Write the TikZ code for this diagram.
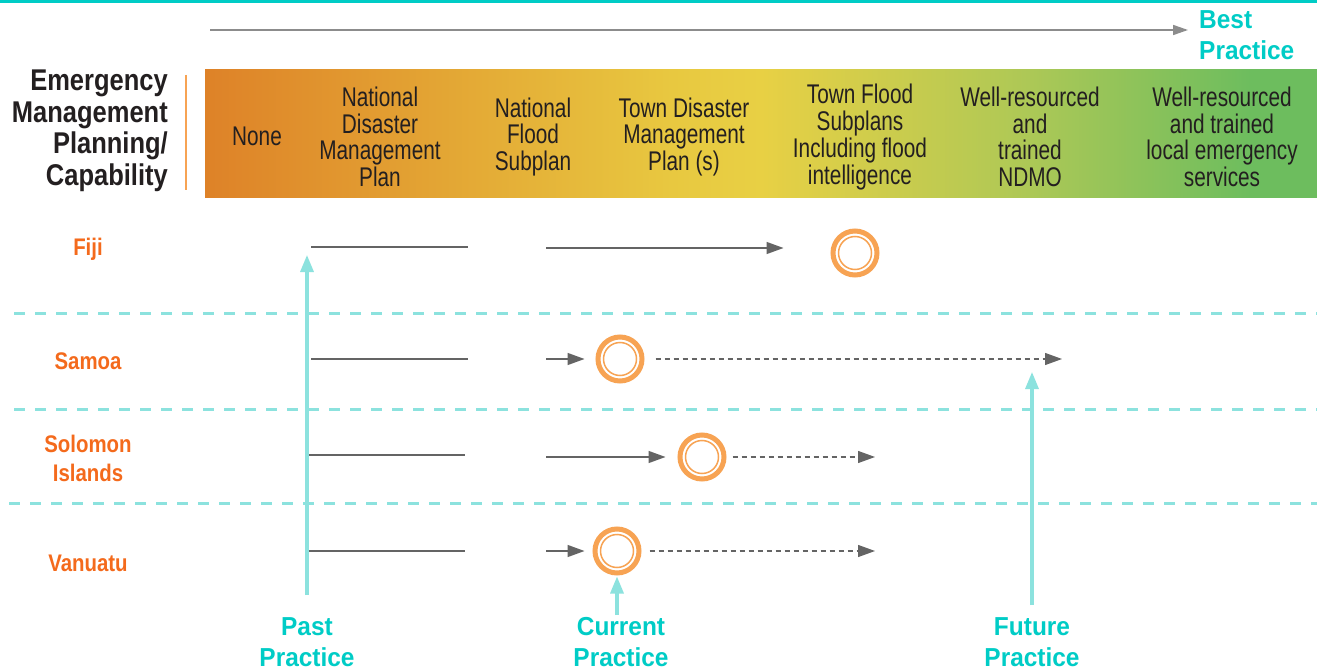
\documentclass[tikz,border=0pt]{standalone}
\usepackage{fontspec}
\setmainfont{Liberation Sans}
\newfontfamily\condfont[FakeStretch=0.77]{Liberation Sans}
\newfontfamily\boldcond[FakeStretch=0.85]{Liberation Sans}
\newfontfamily\boldwide[FakeStretch=0.94]{Liberation Sans}
\usetikzlibrary{arrows.meta}

\definecolor{tealtext}{HTML}{00CCC6}
\definecolor{lightteal}{HTML}{8CE2DE}
\definecolor{countryorange}{HTML}{F46A1C}
\definecolor{ringorange}{HTML}{F7A353}
\definecolor{linegray}{HTML}{646464}
\definecolor{topgray}{HTML}{8C8C8C}
\definecolor{headtext}{HTML}{231F20}
\definecolor{barorange}{HTML}{DE8228}
\definecolor{baryellow}{HTML}{E8C840}
\definecolor{baryellowb}{HTML}{E8D044}
\definecolor{barlime}{HTML}{ADC856}
\definecolor{bargreen}{HTML}{6DBD5E}

\pgfdeclarehorizontalshading{barshade}{100bp}{color(0bp)=(barorange); color(25bp)=(barorange); color(46bp)=(baryellow); color(50bp)=(baryellowb); color(62bp)=(barlime); color(72bp)=(bargreen); color(100bp)=(bargreen)}

\tikzset{
  hdr/.style={align=center, text=headtext, inner sep=0, font=\condfont\fontsize{27}{26.7}\selectfont},
  country/.style={align=center, text=countryorange, inner sep=0, font=\boldcond\bfseries\fontsize{24}{29}\selectfont},
  practice/.style={align=center, text=tealtext, inner sep=0, font=\boldwide\bfseries\fontsize{26}{31}\selectfont},
  ring/.style={circle, draw=ringorange, line width=5pt, minimum size=44pt, inner sep=0,
    path picture={\draw[ringorange, line width=1.5pt] (path picture bounding box.center) circle (16.5pt);}},
  pastline/.style={linegray, line width=1.4pt},
  nowarrow/.style={linegray, line width=1.4pt, -{Triangle[length=17pt,width=12pt]}},
  nextarrow/.style={linegray, line width=1.2pt, dash pattern=on 5pt off 4pt, -{Triangle[length=17pt,width=12pt]}},
  tealarrow/.style={lightteal, line width=3.2pt, -{Triangle[length=17pt,width=13pt]}},
  rowsep/.style={lightteal, line width=3pt, dash pattern=on 11pt off 10pt}
}

\begin{document}
\begin{tikzpicture}[x=1pt,y=-1pt]

\useasboundingbox (0,0) rectangle (1317,671);

\fill[white] (0,0) rectangle (1317,671);

\draw[tealtext, line width=3pt] (0,1.5) -- (1317,1.5);

\coordinate (tstart) at (210,30);

\node [practice, anchor=west, align=left] (best) at (1199,35) {Best\\Practice};

\draw[topgray, line width=1.6pt, -{Triangle[length=15pt,width=10pt]}, shorten >=11pt] (tstart) -- (tstart -| best.west);

\shade[shading=barshade] (205,70) rectangle (1317,198);

\node [align=right, anchor=east, text=headtext, inner sep=0, font=\boldcond\bfseries\fontsize{30}{31.5}\selectfont] (planning) at (168,131) {Emergency\\Management\\Planning/\\Capability};

\draw[ringorange, line width=2.5pt] (186,75) -- (186,190);

\node [hdr] (none) at (257,136) {None};

\node [hdr] (ndmp) at (380,137) {National\\Disaster\\Management\\Plan};

\node [hdr] (nfsp) at (533,137) {National\\Flood\\Subplan};

\node [hdr] (tdmp) at (684,137) {Town Disaster\\Management\\Plan (s)};

\node [hdr] (tfsp) at (860,137) {Town Flood\\Subplans\\Including flood\\intelligence};

\node [hdr] (ndmo) at (1030,137) {Well-resourced\\and\\trained\\NDMO};

\node [hdr] (local) at (1222,137) {Well-resourced\\and trained\\local emergency\\services};

\draw[rowsep] (14,313) -- (1317,313);

\draw[rowsep] (14,409) -- (1317,409);

\draw[rowsep] (9,503) -- (1317,503);

\node [country] (fiji) at (88,249) {Fiji};

\node [country] (samoa) at (88,361) {Samoa};

\node [country] (solomon) at (88,458) {Solomon\\Islands};

\node [country] (vanuatu) at (88,563) {Vanuatu};

\node [ring] (fijinow) at (855,253) {};

\node [ring] (samoanow) at (620,359) {};

\node [ring] (solomonnow) at (702,457) {};

\node [ring] (vanuatunow) at (617,551) {};

\coordinate (fijia) at (311,247);
\coordinate (fijib) at (468,247);
\coordinate (fijic) at (546,248);

\draw[pastline] (fijia) -- (fijib);

\draw[nowarrow, shorten >=47pt] (fijic) -- (fijic -| fijinow.west);

\coordinate (samoaa) at (311,359);
\coordinate (samoab) at (468,359);
\coordinate (samoac) at (546,359);
\coordinate (samoanext) at (1062,359);

\draw[pastline] (samoaa) -- (samoab);

\draw[nowarrow, shorten >=11pt] (samoac) -- (samoanow.west);

\draw[nextarrow, shorten <=11pt] (samoanow.east) -- (samoanext);

\coordinate (solomona) at (308,455);
\coordinate (solomonb) at (465,455);
\coordinate (solomonc) at (546,457);
\coordinate (solomonnext) at (875,457);

\draw[pastline] (solomona) -- (solomonb);

\draw[nowarrow, shorten >=12pt] (solomonc) -- (solomonnow.west);

\draw[nextarrow, shorten <=6pt] (solomonnow.east) -- (solomonnext);

\coordinate (vanuatua) at (308,551);
\coordinate (vanuatub) at (465,551);
\coordinate (vanuatuc) at (546,551);
\coordinate (vanuatunext) at (875,551);

\draw[pastline] (vanuatua) -- (vanuatub);

\draw[nowarrow, shorten >=8pt] (vanuatuc) -- (vanuatunow.west);

\draw[nextarrow, shorten <=8pt] (vanuatunow.east) -- (vanuatunext);

\node [practice] (past) at (307,642) {Past\\Practice};

\node [practice] (current) at (621,642) {Current\\Practice};

\node [practice] (future) at (1032,642) {Future\\Practice};

\coordinate (pasttop) at (307,255);
\coordinate (futuretop) at (1032,372);

\draw[tealarrow, shorten <=22pt] (past.north) -- (pasttop);

\draw[tealarrow, shorten <=2pt, shorten >=1pt] (current.north -| vanuatunow) -- (vanuatunow.south);

\draw[tealarrow, shorten <=12pt] (future.north) -- (futuretop);

\end{tikzpicture}
\end{document}
